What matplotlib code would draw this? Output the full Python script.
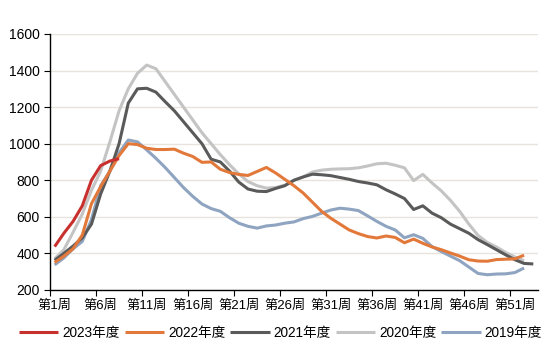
import numpy as np
import matplotlib.pyplot as plt

plt.rcParams['font.family'] = ['Liberation Sans', 'Noto Sans CJK SC', 'DejaVu Sans']

# 周度数据
y2023 = [437, 510, 575, 660, 800, 880, 905, 918]
y2022 = [350, 385, 425, 500, 672, 765, 850, 935, 1000, 995, 975, 968, 968, 970, 948, 930,
         898, 900, 860, 842, 832, 826, 848, 870, 840, 805, 770, 730, 680, 630, 592, 560,
         528, 508, 492, 484, 495, 487, 458, 478, 455, 435, 420, 402, 385, 365, 358, 357,
         366, 368, 370, 390]
y2021 = [362, 400, 440, 485, 560, 725, 850, 1000, 1222, 1300, 1303, 1282, 1230, 1180, 1120, 1060,
         1000, 915, 900, 850, 790, 752, 740, 738, 755, 770, 800, 818, 833, 830, 825, 815,
         805, 793, 785, 775, 748, 725, 700, 640, 660, 620, 595, 560, 535, 510, 475, 448,
         420, 392, 365, 345, 342]
y2020 = [370, 420, 515, 615, 745, 850, 1010, 1180, 1300, 1385, 1430, 1410, 1340, 1270, 1200, 1130,
         1060, 1000, 940, 885, 835, 793, 770, 757, 760, 773, 800, 818, 845, 855, 860, 862,
         863, 868, 878, 890, 893, 882, 868, 798, 832, 785, 742, 690, 630, 560, 498, 460,
         435, 405, 380, 360]
y2019 = [337, 375, 425, 465, 585, 770, 850, 950, 1020, 1010, 966, 920, 870, 815, 760, 712,
         670, 645, 630, 595, 565, 548, 538, 550, 555, 565, 572, 590, 602, 620, 637, 647,
         642, 634, 605, 575, 548, 528, 485, 502, 482, 437, 410, 385, 360, 325, 290, 283,
         287, 288, 295, 320]

series = [
    ('2023年度', y2023, '#C8302E'),
    ('2022年度', y2022, '#E2793A'),
    ('2021年度', y2021, '#5A5A5A'),
    ('2020年度', y2020, '#C4C4C4'),
    ('2019年度', y2019, '#8FA4C0'),
]

fig = plt.figure(figsize=(5.5, 3.54), dpi=100)
ax = fig.add_axes([0.091, 0.181, 0.887, 0.723])

# 先画旧年度，新年度在上层
for name, vals, col in reversed(series):
    weeks = np.arange(1, len(vals) + 1)
    ax.plot(weeks, vals, color=col, lw=2.2, label=name, solid_capstyle='butt')

ax.set_xlim(0.5, 53.5)
ax.set_ylim(200, 1600)
ax.set_yticks(range(200, 1601, 200))
ax.grid(axis='y', color='#E6E4DC', lw=1)
ax.set_axisbelow(True)

ax.set_xticks(np.arange(0.5, 54, 5))
ax.set_xticklabels([])
ax.set_xticks(np.arange(1, 53, 5), minor=True)
ax.set_xticklabels(['第%d周' % w for w in range(1, 53, 5)], minor=True)
ax.tick_params(axis='x', which='major', direction='out', length=4, color='black')
ax.tick_params(axis='x', which='minor', length=0, pad=7, labelsize=9.5)
ax.tick_params(axis='y', direction='out', length=4, labelsize=10)

for s in ['top', 'right']:
    ax.spines[s].set_visible(False)
for s in ['left', 'bottom']:
    ax.spines[s].set_color('black')
    ax.spines[s].set_linewidth(1)

handles, labels = ax.get_legend_handles_labels()
handles, labels = handles[::-1], labels[::-1]
fig.legend(handles, labels, loc='center', bbox_to_anchor=(0.51, 0.06), ncol=5,
           frameon=False, fontsize=9.8, handlelength=2.9, handletextpad=0.3,
           columnspacing=0.35)

fig.savefig('out.png', dpi=100)
